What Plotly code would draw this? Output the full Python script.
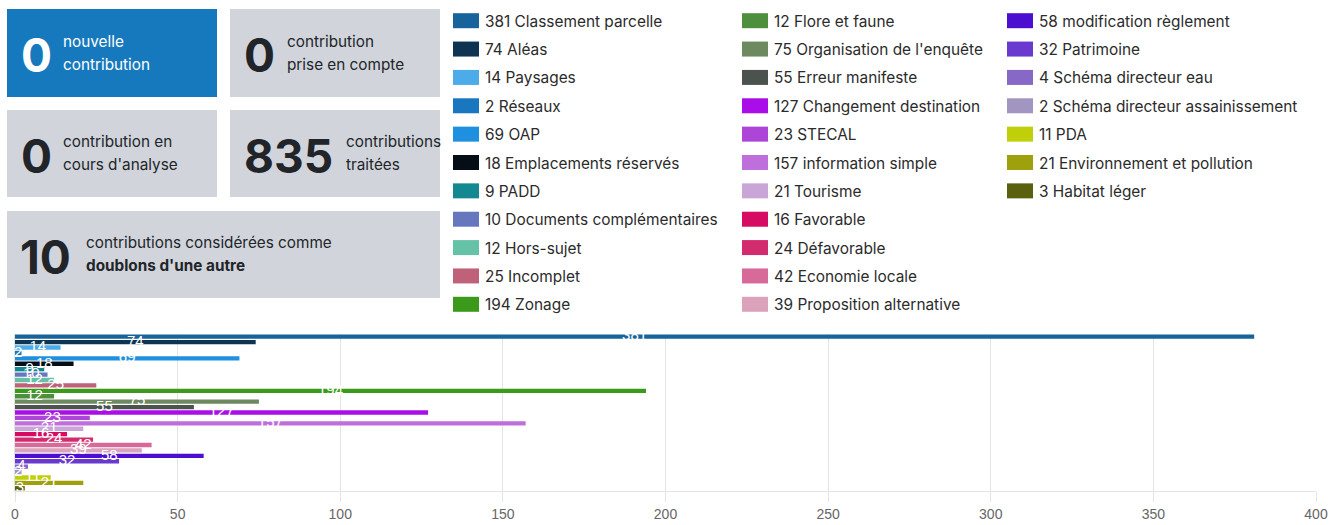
import plotly.graph_objects as go

# ---------------- data ----------------
categories = [
    "Classement parcelle", "Aléas", "Paysages", "Réseaux", "OAP",
    "Emplacements réservés", "PADD", "Documents complémentaires", "Hors-sujet",
    "Incomplet", "Zonage", "Flore et faune", "Organisation de l'enquête",
    "Erreur manifeste", "Changement destination", "STECAL", "information simple",
    "Tourisme", "Favorable", "Défavorable", "Economie locale",
    "Proposition alternative", "modification règlement", "Patrimoine",
    "Schéma directeur eau", "Schéma directeur assainissement", "PDA",
    "Environnement et pollution", "Habitat léger",
]
counts = [381, 74, 14, 2, 69, 18, 9, 10, 12, 25, 194, 12, 75, 55, 127, 23, 157,
          21, 16, 24, 42, 39, 58, 32, 4, 2, 11, 21, 3]
colors = [
    "#17639c", "#0f3451", "#4cabe9", "#1877bf", "#1f8fdf", "#050d16", "#148890",
    "#6677be", "#66c2a6", "#bf6179", "#3b9a19", "#4e8f3e", "#6d8960", "#4c534e",
    "#a90de8", "#ae45d9", "#bf6fdc", "#c9a5d8", "#d60c62", "#d22c6f", "#d86a9a",
    "#dba2bc", "#4c0fcf", "#6a39d0", "#8868c6", "#a295c2", "#bfcf0a", "#9ea00c",
    "#5a600e",
]
x_ticks = [0, 50, 100, 150, 200, 250, 300, 350, 400]

stat_values = ["0", "0", "0", "835", "10"]
stat_lines = [
    ["nouvelle", "contribution"],
    ["contribution", "prise en compte"],
    ["contribution en", "cours d'analyse"],
    ["contributions", "traitées"],
    ["contributions considérées comme", "<b>doublons d'une autre</b>"],
]

# ---------------- layout geometry ----------------
W, H = 1344, 525
ML, MR, MT, MB = 15, 28, 334, 34
PW, PH = W - ML - MR, H - MT - MB


def px(x):
    return (x - ML) / PW


def py(y):
    return (H - MB - y) / PH


fig = go.Figure()

fig.add_trace(go.Bar(
    x=counts, y=categories, orientation="h",
    marker=dict(color=colors, line=dict(width=0)),
    hovertemplate="%{y}: %{x}<extra></extra>",
    showlegend=False,
))
# value labels, drawn above all bars (white text at bar middle)
fig.add_trace(go.Scatter(
    x=[v / 2 for v in counts], y=categories, mode="text",
    text=[str(v) for v in counts],
    textfont=dict(color="white", size=15, family="Liberation Sans, Arial"),
    textposition="middle center",
    hoverinfo="skip", showlegend=False,
))

shapes = []
annotations = []

# ---------------- stat boxes ----------------
boxes = [  # x0, y0, x1, y1, fill, value x, text x, text color
    (7, 9, 217, 97, "#1779bd", 21, 63, "white"),
    (230, 9, 440, 97, "#d1d5db", 244, 287, "#212529"),
    (7, 110, 217, 197, "#d1d5db", 21, 63, "#212529"),
    (230, 110, 440, 197, "#d1d5db", 244, 346, "#212529"),
    (7, 211, 440, 298, "#d1d5db", 20, 86, "#212529"),
]
for (x0, y0, x1, y1, fill, vx, tx, tc), val, lines in zip(boxes, stat_values, stat_lines):
    shapes.append(dict(type="rect", xref="paper", yref="paper",
                       x0=px(x0), x1=px(x1), y0=py(y0), y1=py(y1),
                       fillcolor=fill, line=dict(width=0), layer="below"))
    cy = (y0 + y1) / 2
    annotations.append(dict(
        xref="paper", yref="paper", x=px(vx - 2), y=py(cy + 2),
        xanchor="left", yanchor="middle", showarrow=False,
        text=f"<b>{val}</b>",
        font=dict(family="Inter, Noto Sans", size=46, color=tc),
    ))
    for i, ln in enumerate(lines):
        ly = cy - 12 + 23 * i
        annotations.append(dict(
            xref="paper", yref="paper", x=px(tx - 2), y=py(ly),
            xanchor="left", yanchor="middle", showarrow=False,
            text=ln, font=dict(family="Inter, Noto Sans", size=15.3, color=tc),
        ))

# ---------------- legend (3 columns, column-major) ----------------
col_x = [453, 742, 1007]
rows_per_col = 11
for i, (name, v, c) in enumerate(zip(categories, counts, colors)):
    col, row = divmod(i, rows_per_col)
    sx = col_x[col]
    sy = 20.7 + 28.36 * row
    shapes.append(dict(type="rect", xref="paper", yref="paper",
                       x0=px(sx), x1=px(sx + 26), y0=py(sy - 7.5), y1=py(sy + 7.5),
                       fillcolor=c, line=dict(width=0)))
    annotations.append(dict(
        xref="paper", yref="paper", x=px(sx + 30), y=py(sy + 0.5),
        xanchor="left", yanchor="middle", showarrow=False,
        text=f"{v} {name}",
        font=dict(family="Inter, Noto Sans", size=15.4, color="#2b2b2b"),
    ))

fig.update_layout(
    width=W, height=H,
    margin=dict(l=ML, r=MR, t=MT, b=MB, autoexpand=False),
    paper_bgcolor="white", plot_bgcolor="white",
    bargap=0.2,
    shapes=shapes, annotations=annotations,
    showlegend=False,
    xaxis=dict(
        range=[0, 400], tickvals=x_ticks, ticktext=[str(t) for t in x_ticks],
        showgrid=True, gridcolor="#e4e4e4", gridwidth=1,
        zeroline=False,
        showline=True, linecolor="#e4e4e4", linewidth=1,
        ticks="outside", ticklen=10, tickcolor="#e4e4e4",
        tickfont=dict(family="Liberation Sans, Arial", size=14, color="#666666"),
        automargin=False, fixedrange=True,
    ),
    yaxis=dict(
        type="category", categoryorder="array", categoryarray=categories,
        range=[len(categories) - 0.5, -0.5], autorange=False,
        showticklabels=False, showgrid=False,
        zeroline=False, showline=True, linecolor="#e4e4e4", linewidth=1,
        ticks="", automargin=False, fixedrange=True,
    ),
)

fig.write_html("out.html", config={"displayModeBar": False})
